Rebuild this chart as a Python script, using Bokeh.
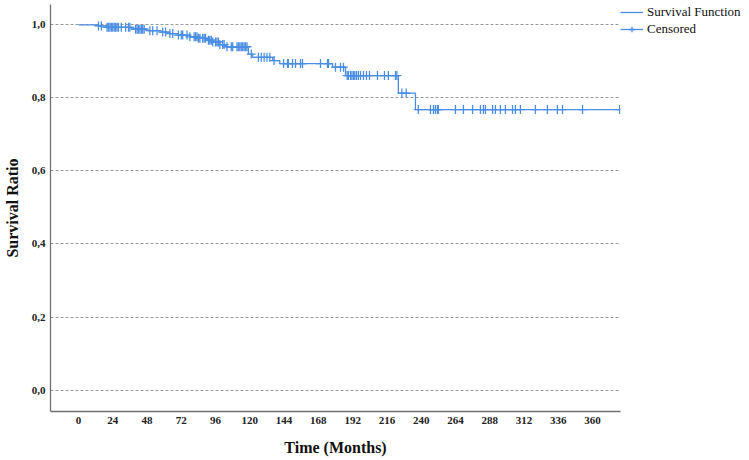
import numpy as np
from bokeh.plotting import figure
from bokeh.models import Range1d, FixedTicker, Legend, LegendItem, CustomJSTickFormatter
from bokeh.embed import file_html
from bokeh.resources import INLINE

# Kaplan-Meier step data (months, survival after the event)
event_times = [14, 20, 37, 48, 57, 64, 70, 78, 84, 90, 94, 99, 103, 119, 122, 136, 141, 178, 187, 224, 236]
event_surv = [0.997, 0.993, 0.988, 0.984, 0.980, 0.976, 0.972, 0.967, 0.963, 0.958, 0.953, 0.946, 0.940,
              0.920, 0.911, 0.902, 0.894, 0.884, 0.861, 0.813, 0.768]
end_time = 379

# censored observation times (months)
censor_times = [14, 16, 20, 21, 22, 23, 24, 25, 26, 27, 28, 30, 33, 35, 36, 40, 41, 42, 43, 44, 45, 46,
                50, 52, 55, 59, 61, 64, 66, 70, 72, 73, 76, 78, 81, 82, 83, 84, 85, 87, 88, 89, 91, 92,
                93, 94, 96, 97, 98, 99, 101, 102, 104, 107, 108, 111, 112, 113, 114, 115, 116, 117, 118,
                121, 126, 128, 130, 132, 134, 137,
                143.6, 146.4, 147, 149.9, 152, 155.5, 156.9, 169.5, 174.4, 175.1,
                180, 183.5, 185.6,
                188.2, 189, 190.5, 191.5, 192.6, 193.5, 194.7, 196, 197.5, 199.6, 201.7, 203.8, 209.4,
                214.3, 217, 222, 223,
                226.5, 229.5,
                238, 246.5, 248.6, 250, 251.4, 252, 264, 269.6, 276, 281.5, 283.6, 285, 290, 292, 295.5,
                299, 304, 306, 309.5, 320, 328.4, 335.4, 339, 353, 379]

x_ticks = list(range(0, 361, 24))
y_ticks = [0.0, 0.2, 0.4, 0.6, 0.8, 1.0]

# step series
step_x = [0] + event_times + [end_time]
step_y = [1.0] + event_surv + [event_surv[-1]]

et = np.array(event_times, dtype=float)
es = np.array(event_surv, dtype=float)
ct = np.array(censor_times, dtype=float)
idx = np.searchsorted(et, ct, side="right") - 1
cs = np.where(idx >= 0, es[np.clip(idx, 0, None)], 1.0)

BLUE = "#4a8ee4"
FONT = "Liberation Serif"

p = figure(frame_width=570, frame_height=407,
           x_range=Range1d(-19.6, 379.6), y_range=Range1d(-0.0586, 1.0556),
           output_backend="svg", toolbar_location=None,
           min_border_left=50, min_border_right=129, min_border_top=4, min_border_bottom=49)
p.outline_line_color = None
p.background_fill_color = "white"

line_r = p.step(step_x, step_y, mode="after", line_color=BLUE, line_width=1.3)
cens_r = p.scatter(ct, cs, marker="cross", size=9, line_color=BLUE, line_width=1.3)

# axes
p.xaxis.ticker = FixedTicker(ticks=x_ticks)
p.yaxis.ticker = FixedTicker(ticks=y_ticks)
p.yaxis.formatter = CustomJSTickFormatter(code="return tick.toFixed(1).replace('.', ',');")
for ax in (p.xaxis[0], p.yaxis[0]):
    ax.axis_line_color = "#707070"
    ax.axis_line_width = 1.3
    ax.major_tick_out = 0
    ax.major_tick_in = 0
    ax.minor_tick_out = 0
    ax.minor_tick_in = 0
    ax.major_label_text_font = FONT
    ax.major_label_text_font_style = "bold"
    ax.major_label_text_font_size = "11px"
    ax.major_label_text_color = "#222222"
    ax.axis_label_text_font = FONT
    ax.axis_label_text_font_style = "bold"
    ax.axis_label_text_font_size = "16px"
    ax.axis_label_text_color = "#111111"
p.xaxis.axis_label = "Time (Months)"
p.yaxis.axis_label = "Survival Ratio"
p.xaxis.major_label_standoff = 5
p.xaxis.axis_label_standoff = 12
p.yaxis.major_label_standoff = 5
p.yaxis.axis_label_standoff = 8

p.xgrid.visible = False
p.ygrid.ticker = FixedTicker(ticks=y_ticks)
p.ygrid.grid_line_color = "#9a9a9a"
p.ygrid.grid_line_dash = "3 2"
p.ygrid.grid_line_width = 1

legend = Legend(items=[LegendItem(label="Survival Function", renderers=[line_r]),
                       LegendItem(label="Censored", renderers=[line_r, cens_r])],
                location="top_left")
legend.background_fill_alpha = 0
legend.border_line_color = None
legend.label_text_font = FONT
legend.label_text_font_size = "13px"
legend.label_text_color = "#111111"
legend.glyph_width = 23
legend.glyph_height = 14
legend.label_standoff = 4
legend.spacing = 1
legend.padding = 1
legend.margin = 0
p.add_layout(legend, "right")

open("out.html", "w").write(file_html(p, INLINE))
